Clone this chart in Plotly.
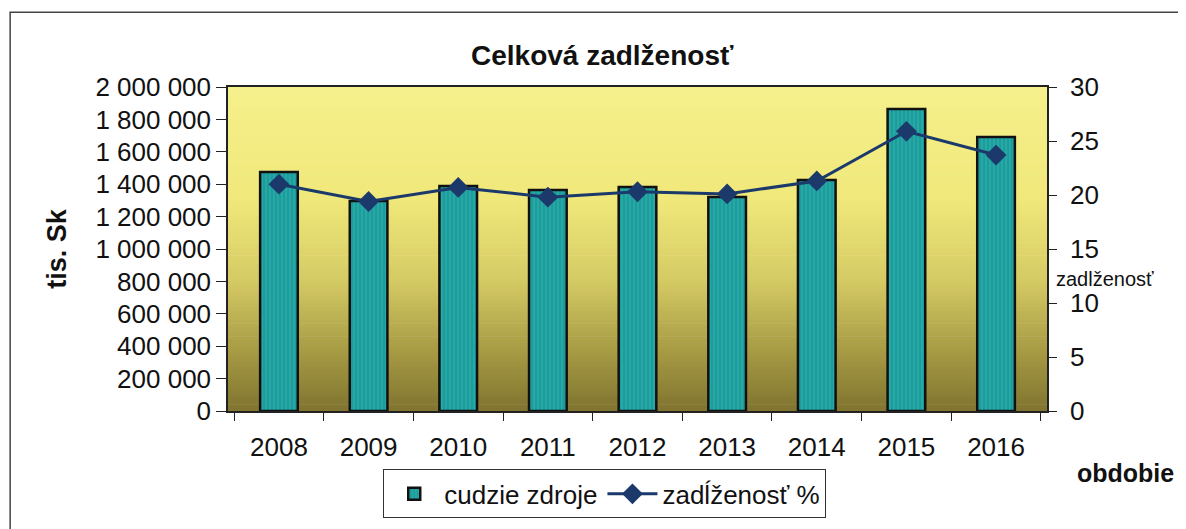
import plotly.graph_objects as go

years = ["2008", "2009", "2010", "2011", "2012", "2013", "2014", "2015", "2016"]
cudzie_zdroje = [1475000, 1296000, 1389000, 1364000, 1383000, 1321000, 1426000, 1864000, 1691000]
zadlzenost = [21.0, 19.4, 20.7, 19.8, 20.3, 20.1, 21.3, 25.9, 23.7]

FONT = "Liberation Sans, Arial, sans-serif"

fig = go.Figure()
fig.add_trace(go.Bar(
    x=years, y=cudzie_zdroje, name="cudzie zdroje",
    width=0.42,
    marker=dict(color="#1c9c9c", line=dict(color="#111111", width=2.5),
                pattern=dict(shape="|", fgcolor="#3fbcb4", size=4, solidity=0.35, fillmode="overlay")),
    yaxis="y",
))
fig.add_trace(go.Scatter(
    x=years, y=zadlzenost, name="zadĺženosť %", mode="lines+markers",
    line=dict(color="#1b3a6b", width=3),
    marker=dict(symbol="diamond", size=16, color="#1b3a6b"),
    yaxis="y2",
))

# gradient background stripes (decoration)
def lerp(c1, c2, t):
    return tuple(round(a + (b - a) * t) for a, b in zip(c1, c2))

stops = [(0.0, (246, 240, 140)), (0.35, (240, 232, 122)), (0.6, (212, 202, 100)),
         (0.8, (170, 158, 70)), (1.0, (128, 116, 48))]
shapes = []
N = 100
for i in range(N):
    t = (i + 0.5) / N  # 0 top -> 1 bottom
    for j in range(len(stops) - 1):
        if stops[j][0] <= t <= stops[j + 1][0]:
            tt = (t - stops[j][0]) / (stops[j + 1][0] - stops[j][0])
            c = lerp(stops[j][1], stops[j + 1][1], tt)
            break
    shapes.append(dict(type="rect", xref="paper", yref="paper", x0=0, x1=1,
                       y0=1 - (i + 1) / N - 0.001, y1=1 - i / N + 0.001,
                       fillcolor="rgb(%d,%d,%d)" % c, line=dict(width=0), layer="below"))
# outer frame
shapes.append(dict(type="rect", xref="paper", yref="paper", x0=-0.266, x1=1.3, y0=-0.6, y1=1.231,
                   line=dict(color="#444444", width=1.5), fillcolor="rgba(0,0,0,0)"))

fig.update_layout(
    width=1186, height=529,
    margin=dict(l=220, r=147, t=79, b=126),
    paper_bgcolor="white", plot_bgcolor="rgba(0,0,0,0)",
    separators=", ",
    font=dict(family=FONT, size=26, color="#111111"),
    title=dict(text="<b>Celková zadlženosť</b>", x=0.501, xanchor="center", y=0.911, yanchor="middle",
               font=dict(family=FONT, size=28, color="#111111")),
    shapes=shapes,
    xaxis=dict(type="category", showline=True, linecolor="#222222", linewidth=1.5, mirror=True,
               ticks="outside", ticklen=8, tickcolor="#222222", tickson="boundaries",
               ticklabelstandoff=12, showgrid=False, tickfont=dict(size=26)),
    yaxis=dict(range=[0, 2000000], dtick=200000, tickformat=",d", showline=True, linecolor="#222222",
               linewidth=1.5, ticks="outside", ticklen=10, tickcolor="#222222", showgrid=False,
               zeroline=False, tickfont=dict(size=26)),
    yaxis2=dict(range=[0, 30], dtick=5, overlaying="y", side="right", showline=True, linecolor="#222222",
                linewidth=1.5, ticks="outside", ticklen=8, tickcolor="#222222", showgrid=False,
                ticklabelstandoff=8, zeroline=False, tickfont=dict(size=26)),
    legend=dict(orientation="h", x=0.460, xanchor="center", y=-0.256, yanchor="middle",
                bordercolor="#333333", borderwidth=1, bgcolor="white",
                font=dict(size=26), itemwidth=50, traceorder="normal"),
    annotations=[
        dict(text="<b>tis. Sk</b>", xref="paper", yref="paper", x=-0.209, y=0.503, textangle=-90,
             xanchor="center", yanchor="middle", showarrow=False, font=dict(size=27, family=FONT)),
        dict(text="<b>obdobie</b>", xref="paper", yref="paper", x=1.096, y=-0.191,
             xanchor="center", yanchor="middle", showarrow=False, font=dict(size=25, family=FONT)),
        dict(text="zadlženosť", xref="paper", yref="paper", x=1.071, y=0.407,
             xanchor="center", yanchor="middle", showarrow=False, font=dict(size=20, family=FONT)),
    ],
)

fig.write_html("out.html")
